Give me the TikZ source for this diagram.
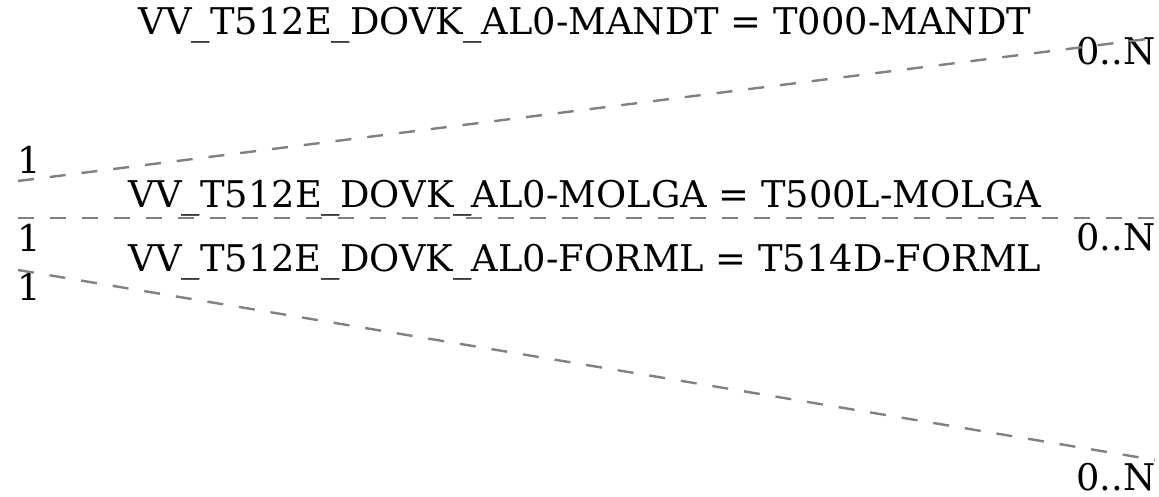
\documentclass[tikz,border=0pt]{standalone}
\usepackage{fontspec}
\setmainfont{DejaVu Serif}
\usetikzlibrary{positioning}

\begin{document}
\begin{tikzpicture}[
      x=1pt, y=-1pt,
      every node/.style={font=\fontsize{36.8}{42}\selectfont, inner sep=0pt},
      rel/.style={draw=gray, line width=2.4pt, dash pattern=on 16pt off 16pt},
      card/.style={anchor=center},
      cond/.style={anchor=center}
    ]
      \useasboundingbox (0,0) rectangle (1159,496);

      % end points of the relations
      \coordinate (mandtL) at (18,181);
      \coordinate (mandtR) at (1155,38);
      \coordinate (molgaL) at (18,218);
      \coordinate (molgaR) at (1155,218);
      \coordinate (formlL) at (18,270);
      \coordinate (formlR) at (1155,460);

      % join conditions
      \node[cond] (mandt) at (585,25) {VV\_T512E\_DOVK\_AL0-MANDT = T000-MANDT};
      \node[cond] (molga) at (585,198) {VV\_T512E\_DOVK\_AL0-MOLGA = T500L-MOLGA};
      \node[cond] (forml) at (585,262) {VV\_T512E\_DOVK\_AL0-FORML = T514D-FORML};

      % cardinalities
      \node[card] (mandtOne) at (29,160) {1};
      \node[card] (molgaOne) at (29,238) {1};
      \node[card] (formlOne) at (29,287) {1};
      \node[card] (mandtN) at (1116,51) {0..N};
      \node[card] (molgaN) at (1116,237) {0..N};
      \node[card] (formlN) at (1116,477) {0..N};

      % relations
      \draw[rel] (mandtL) -- (mandtR);
      \draw[rel] (molgaL) -- (molgaR);
      \draw[rel] (formlL) -- (formlR);
    \end{tikzpicture}
\end{document}
